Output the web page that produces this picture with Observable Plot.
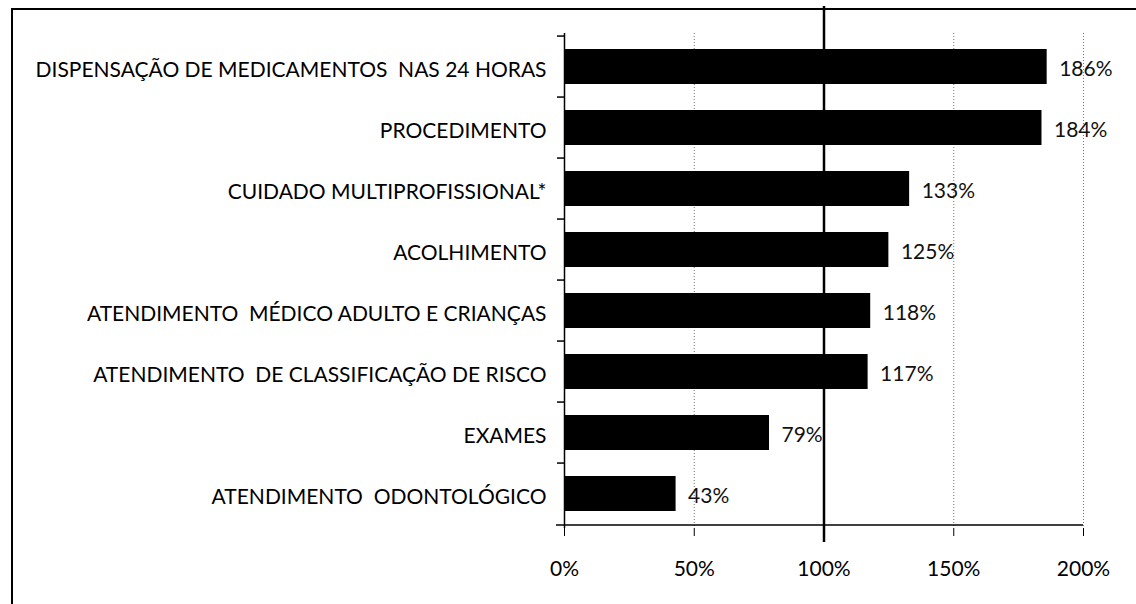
<!DOCTYPE html>
<html>
<head>
<meta charset="utf-8">
<script src="https://cdn.jsdelivr.net/npm/d3@7"></script>
<script src="https://cdn.jsdelivr.net/npm/@observablehq/plot@0.6"></script>
<style>
  html, body { margin: 0; padding: 0; background: #fff; }
  #wrap { position: relative; width: 1136px; height: 604px; overflow: hidden; }
  #border { position: absolute; left: 11px; top: 8px; width: 1200px; height: 700px;
            border-top: 2px solid #000; border-left: 2px solid #000; pointer-events: none; }
  #chart { position: absolute; left: 0; top: 0; }
</style>
</head>
<body>
<div id="wrap"><div id="chart"></div><div id="border"></div></div>
<script>
const categories = [
  "DISPENSAÇÃO DE MEDICAMENTOS  NAS 24 HORAS",
  "PROCEDIMENTO",
  "CUIDADO MULTIPROFISSIONAL*",
  "ACOLHIMENTO",
  "ATENDIMENTO  MÉDICO ADULTO E CRIANÇAS",
  "ATENDIMENTO  DE CLASSIFICAÇÃO DE RISCO",
  "EXAMES",
  "ATENDIMENTO  ODONTOLÓGICO"
];
const values = [186, 184, 133, 125, 118, 117, 79, 43];
const xTicks = [0, 50, 100, 150, 200];
const gridTicks = [50, 150, 200];
const referenceLine = [100];

const data = categories.map((c, i) => ({category: c, value: values[i]}));

const W = 1136, H = 604, mt = 33, mb = 76, ml = 564, mr = 53;
const step = (H - mt - mb) / categories.length;
const font = "Lato, 'Open Sans', sans-serif";

const chart = Plot.plot({
  width: W, height: H,
  marginLeft: ml, marginRight: mr, marginTop: mt, marginBottom: mb,
  style: {fontFamily: font, fontSize: "21px", color: "#000", background: "transparent"},
  x: {domain: [0, 200], ticks: xTicks, label: null},
  y: {domain: categories, paddingInner: 0.42, paddingOuter: 0.21, label: null},
  marks: [
    Plot.ruleX(gridTicks, {stroke: "#777", strokeWidth: 1, strokeDasharray: "1,2"}),
    Plot.ruleX(referenceLine, {stroke: "#000", strokeWidth: 2.5, insetTop: -27, insetBottom: -14}),
    Plot.barX(data, {x: "value", y: "category", fill: "#000"}),
    Plot.text(data, {x: "value", y: "category", text: d => d.value + "%", dx: 12, dy: 2, textAnchor: "start", fontSize: 21, fill: "#111"}),
    Plot.ruleX([0], {stroke: "#000", strokeWidth: 1.5}),
    Plot.ruleY(categories, {x1: 0, x2: 0, insetLeft: -7, dy: -step / 2, stroke: "#000", strokeWidth: 1.5}),
    Plot.ruleY(categories.slice(-1), {x1: 0, x2: 200, insetLeft: -8, dy: step / 2, stroke: "#000", strokeWidth: 1.5}),
    Plot.axisX({ticks: xTicks, tickFormat: d => d + "%", tickSize: 8, tickPadding: 25, fontSize: 21, stroke: "#000", label: null}),
    Plot.axisY({tickSize: 0, tickPadding: 18, fontSize: 21, dy: 3, label: null})
  ]
});
document.getElementById("chart").appendChild(chart);
</script>
</body>
</html>
